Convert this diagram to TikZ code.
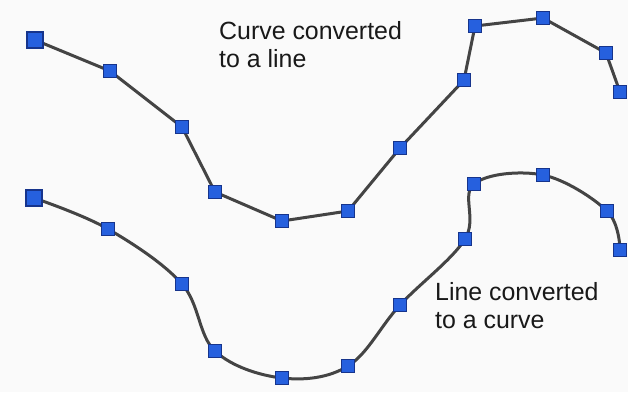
\documentclass[tikz,border=0pt]{standalone}
\usepackage{fontspec}
\setmainfont{Liberation Sans}
\usetikzlibrary{positioning}

\definecolor{ptblue}{RGB}{38,96,222}
\definecolor{ptedge}{RGB}{22,52,140}
\definecolor{wiregray}{RGB}{68,68,68}
\definecolor{paper}{RGB}{250,250,250}

\pgfdeclarelayer{back}
\pgfsetlayers{back,main}

\begin{document}
\begin{tikzpicture}[x=1bp,y=-1bp,
  pt/.style={draw=ptedge,fill=ptblue,line width=1.2bp,inner sep=0pt,minimum size=13bp},
  endpt/.style={pt,minimum size=16bp},
  wire/.style={draw=wiregray,line width=3bp,line join=round},
  caption/.style={align=left,anchor=base west,inner sep=0pt,font=\fontsize{25}{28}\selectfont,text=black!90}]

% curve converted to a line
\node[endpt](a1) at (35,40) {};
\node[pt](a2) at (110,71) {};
\node[pt](a3) at (182,127) {};
\node[pt](a4) at (215,192) {};
\node[pt](a5) at (282,221) {};
\node[pt](a6) at (348,211) {};
\node[pt](a7) at (400,148) {};
\node[pt](a8) at (464,80) {};
\node[pt](a9) at (475,26) {};
\node[pt](a10) at (543,18) {};
\node[pt](a11) at (606,53) {};
\node[pt](a12) at (620,92) {};

% line converted to a curve
\node[endpt](b1) at (34,198) {};
\node[pt](b2) at (108,229) {};
\node[pt](b3) at (182,284) {};
\node[pt](b4) at (215,351) {};
\node[pt](b5) at (282,378) {};
\node[pt](b6) at (348,366) {};
\node[pt](b7) at (400,305) {};
\node[pt](b8) at (465,239) {};
\node[pt](b9) at (474,184) {};
\node[pt](b10) at (543,175) {};
\node[pt](b11) at (607,211) {};
\node[pt](b12) at (620,250) {};

\node[caption](topnote) at (219,67) {Curve converted\\to a line};
\node[caption](botnote) at (435,328) {Line converted\\to a curve};

\begin{pgfonlayer}{back}
\fill[paper] (0,0) rectangle (628,392);
\draw[wire] (a1.center) -- (a2.center) -- (a3.center) -- (a4.center) -- (a5.center) -- (a6.center)
  -- (a7.center) -- (a8.center) -- (a9.center) -- (a10.center) -- (a11.center) -- (a12.center);
\draw[wire] plot[smooth,tension=0.6] coordinates {(b1.center) (b2.center) (b3.center) (b4.center)
  (b5.center) (b6.center) (b7.center) (b8.center) (b9.center) (b10.center) (b11.center) (b12.center)};
\end{pgfonlayer}

\useasboundingbox (0,0) rectangle (628,392);
\end{tikzpicture}
\end{document}
